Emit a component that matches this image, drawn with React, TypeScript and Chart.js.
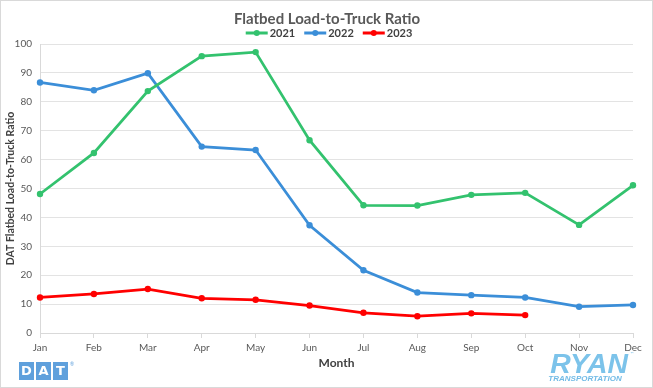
import React, { useEffect, useRef } from "react";
import { Chart, registerables } from "chart.js";

Chart.register(...registerables);

const months = ["Jan", "Feb", "Mar", "Apr", "May", "Jun", "Jul", "Aug", "Sep", "Oct", "Nov", "Dec"];
const series2021 = [48.1, 62.3, 83.7, 95.8, 97.2, 66.7, 44.2, 44.1, 47.8, 48.5, 37.4, 51.1];
const series2022 = [86.7, 84.0, 89.9, 64.5, 63.3, 37.3, 21.7, 14.0, 13.1, 12.3, 9.1, 9.7];
const series2023 = [12.3, 13.5, 15.2, 12.0, 11.5, 9.5, 7.0, 5.8, 6.8, 6.2, null, null];
const seriesNames = ["2021", "2022", "2023"];
const seriesColors = ["#33C26E", "#3B8ED8", "#FF0000"];
const chartTitle = "Flatbed Load-to-Truck Ratio";
const yTitle = "DAT Flatbed Load-to-Truck Ratio";
const xTitle = "Month";

const FONT = "Lato, 'Open Sans', sans-serif";

const decorPlugin = {
  id: "decor",
  beforeDraw(chart: any) {
    const ctx = chart.ctx;
    const w = chart.width;
    const h = chart.height;
    ctx.save();
    ctx.fillStyle = "#ffffff";
    ctx.fillRect(0, 0, w, h);
    ctx.strokeStyle = "#d9d9d9";
    ctx.lineWidth = 1;
    ctx.strokeRect(0.5, 0.5, w - 1, h - 1);
    ctx.restore();
  },
  afterDraw(chart: any) {
    const ctx = chart.ctx;
    ctx.save();
    // title
    ctx.fillStyle = "#595959";
    ctx.font = `bold 15px ${FONT}`;
    ctx.textAlign = "center";
    ctx.textBaseline = "middle";
    ctx.fillText(chartTitle, 327, 19);

    // legend
    ctx.font = `bold 11px ${FONT}`;
    const lineW = 22;
    const gapText = 2;
    const gapItem = 9;
    const widths = seriesNames.map((n) => ctx.measureText(n).width);
    const total = widths.reduce((a, b) => a + b + lineW + gapText, 0) + gapItem * (seriesNames.length - 1);
    let x = 329 - total / 2;
    const ly = 33;
    seriesNames.forEach((n, i) => {
      ctx.strokeStyle = seriesColors[i];
      ctx.lineWidth = 3;
      ctx.beginPath();
      ctx.moveTo(x, ly);
      ctx.lineTo(x + lineW, ly);
      ctx.stroke();
      ctx.fillStyle = seriesColors[i];
      ctx.beginPath();
      ctx.arc(x + lineW / 2, ly, 3, 0, Math.PI * 2);
      ctx.fill();
      ctx.fillStyle = "#404040";
      ctx.textAlign = "left";
      ctx.fillText(n, x + lineW + gapText, ly + 0.5);
      x += lineW + gapText + widths[i] + gapItem;
    });

    // DAT logo
    const datColor = "#5FA0DC";
    const letters = ["D", "A", "T"];
    letters.forEach((l, i) => {
      const bx = 19 + i * 17;
      ctx.fillStyle = datColor;
      ctx.fillRect(bx, 362, 15, 18);
      ctx.fillStyle = "#ffffff";
      ctx.font = `bold 13px 'DejaVu Sans', sans-serif`;
      ctx.textAlign = "center";
      ctx.textBaseline = "middle";
      ctx.fillText(l, bx + 7.5, 371.5);
    });
    ctx.fillStyle = datColor;
    ctx.font = `5px ${FONT}`;
    ctx.fillText("®", 72, 364);

    // RYAN logo
    ctx.fillStyle = "#7CC3EA";
    ctx.textAlign = "center";
    ctx.textBaseline = "alphabetic";
    ctx.save();
    ctx.translate(589, 373);
    ctx.scale(1.05, 1);
    ctx.font = `italic bold 27px 'Liberation Sans', Arial, sans-serif`;
    ctx.fillText("RYAN", 0, 0);
    ctx.restore();
    ctx.fillStyle = "#72BBE6";
    ctx.font = `italic bold 8px 'Liberation Sans', Arial, sans-serif`;
    ctx.fillText("TRANSPORTATION", 585, 381);
    ctx.font = `4px ${FONT}`;
    ctx.fillText("™", 632, 355);
    ctx.restore();
  },
};

export default function App() {
  const ref = useRef<HTMLCanvasElement>(null);
  useEffect(() => {
    if (!ref.current) return;
    const data = [series2021, series2022, series2023];
    const chart = new Chart(ref.current, {
      type: "line",
      data: {
        labels: months,
        datasets: seriesNames.map((n, i) => ({
          label: n,
          data: data[i],
          borderColor: seriesColors[i],
          backgroundColor: seriesColors[i],
          borderWidth: 2.75,
          pointRadius: 3.2,
          pointBorderWidth: 0,
          pointBackgroundColor: seriesColors[i],
          tension: 0,
          spanGaps: false,
        })),
      },
      options: {
        animation: false,
        responsive: false,
        maintainAspectRatio: false,
        devicePixelRatio: 1,
        layout: { padding: { top: 44, right: 20, left: 0, bottom: 0 } },
        plugins: {
          legend: { display: false },
          title: { display: false },
          tooltip: { enabled: false },
        },
        scales: {
          x: {
            offset: false,
            afterFit: (s: any) => {
              s.height = 55;
            },
            grid: {
              drawOnChartArea: false,
              drawTicks: true,
              tickLength: 5,
              color: "#d9d9d9",
            },
            border: { color: "#d9d9d9" },
            ticks: {
              color: "#595959",
              font: { family: FONT, size: 10 },
              padding: 4,
              maxRotation: 0,
              autoSkip: false,
            },
            title: {
              display: true,
              text: xTitle,
              color: "#404040",
              font: { family: FONT, size: 12, weight: "bold" },
              padding: { top: 0, bottom: 18 },
            },
          },
          y: {
            min: 0,
            max: 100,
            afterFit: (s: any) => {
              s.width = 40;
            },
            ticks: {
              stepSize: 10,
              color: "#595959",
              font: { family: FONT, size: 10 },
              padding: 8,
            },
            grid: {
              color: "#e3e3e3",
              drawTicks: false,
            },
            border: { display: true, color: "#d9d9d9" },
            title: {
              display: true,
              text: yTitle,
              color: "#404040",
              font: { family: FONT, size: 10.5, weight: "bold" },
              padding: { top: 4, bottom: 4 },
            },
          },
        },
      },
      plugins: [decorPlugin],
    } as any);
    return () => chart.destroy();
  }, []);
  return (
    <div style={{ position: "fixed", left: 0, top: 0, width: 653, height: 388 }}>
      <canvas ref={ref} width={653} height={388} style={{ width: 653, height: 388 }} />
    </div>
  );
}
